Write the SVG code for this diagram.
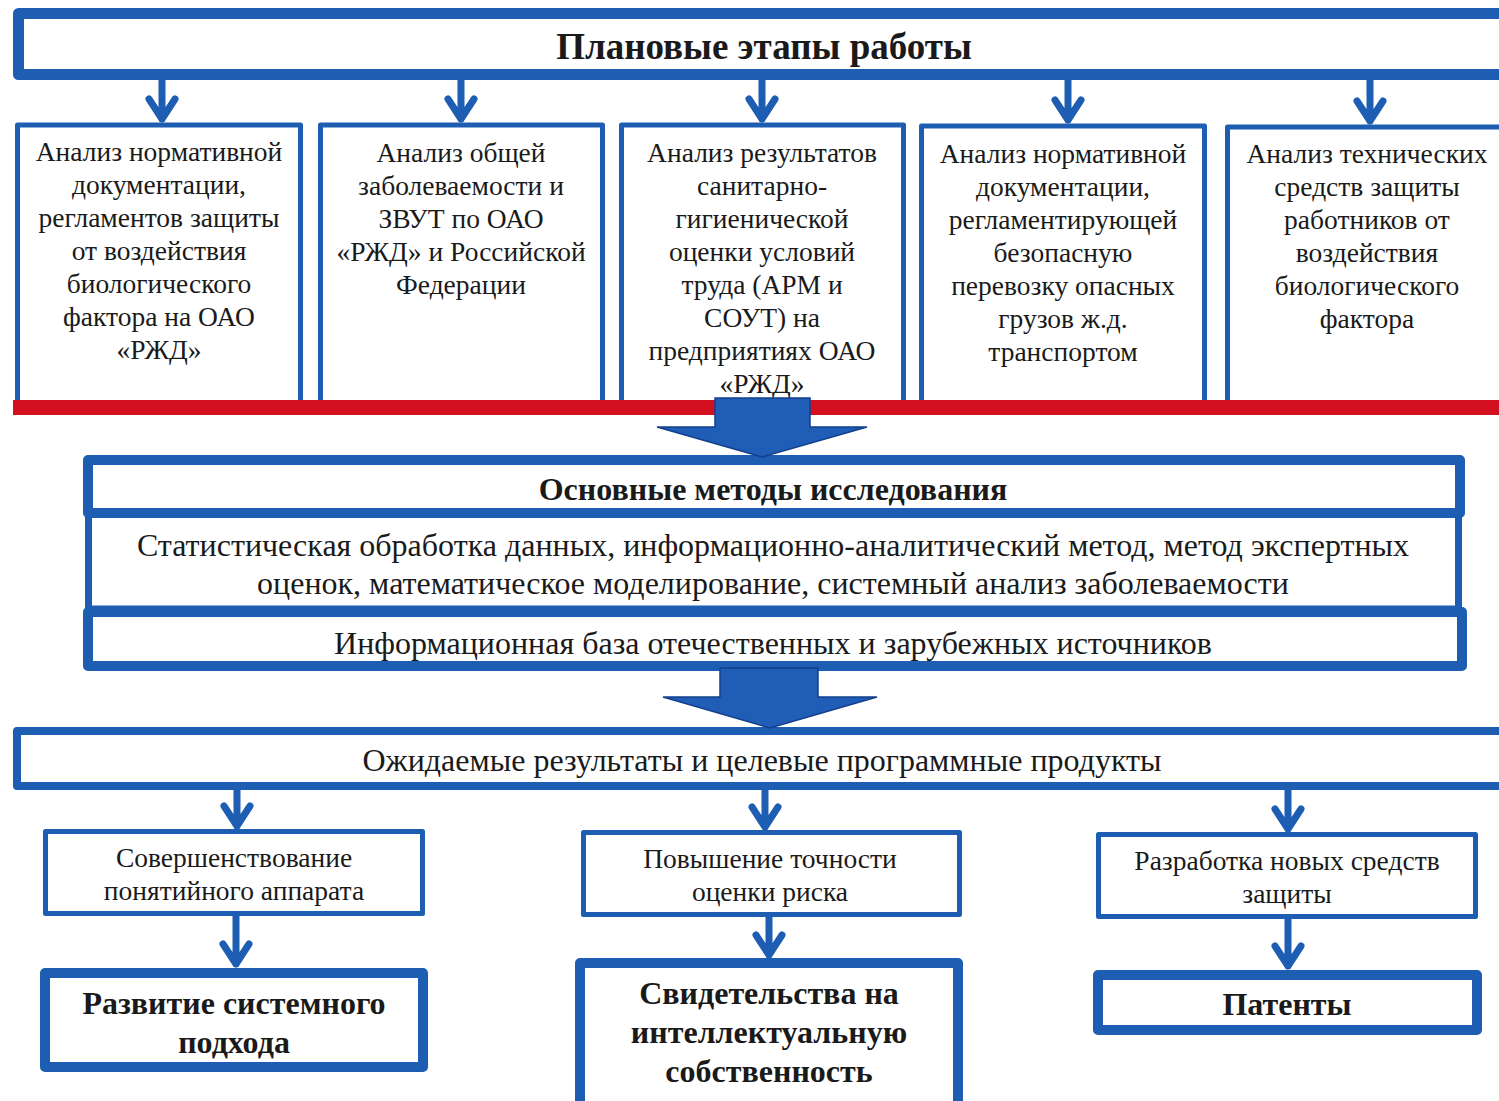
<svg xmlns="http://www.w3.org/2000/svg" width="1499" height="1101" viewBox="0 0 1499 1101">
<style>
.b{fill:#fff;stroke:#1d5eb3;stroke-linejoin:round}
.t{font-family:"Liberation Serif","Times New Roman",serif;fill:#1a1a1a;text-anchor:middle}
.c{font-size:27.5px}
.s{font-size:27.5px}
.m{font-size:32px}
.h{font-weight:bold}
.ar{fill:none;stroke:#1d5eb3;stroke-width:7;stroke-linecap:round;stroke-linejoin:round}
.big{fill:#1f5db6;stroke:#143f8c;stroke-width:1.5;stroke-linejoin:miter}
</style>
<rect width="1499" height="1101" fill="#fff"/>

<g id="plan">
<rect class="b" x="18.5" y="13.5" width="1500" height="61" stroke-width="11"/>
<text class="t h" x="764" y="59" font-size="37">Плановые этапы работы</text>
</g>

<g id="col1">
<rect class="b" x="17.5" y="125" width="283" height="285" stroke-width="5"/>
<text class="t c"><tspan x="159" y="161">Анализ нормативной</tspan><tspan x="159" y="194">документации,</tspan><tspan x="159" y="227">регламентов защиты</tspan><tspan x="159" y="260">от воздействия</tspan><tspan x="159" y="293">биологического</tspan><tspan x="159" y="326">фактора на ОАО</tspan><tspan x="159" y="359">«РЖД»</tspan></text>
</g>
<g id="col2">
<rect class="b" x="320.5" y="125" width="282" height="285" stroke-width="5"/>
<text class="t c"><tspan x="461" y="162">Анализ общей</tspan><tspan x="461" y="195">заболеваемости и</tspan><tspan x="461" y="228">ЗВУТ по ОАО</tspan><tspan x="461" y="261">«РЖД» и Российской</tspan><tspan x="461" y="294">Федерации</tspan></text>
</g>
<g id="col3">
<rect class="b" x="621.5" y="125" width="282" height="285" stroke-width="5"/>
<text class="t c"><tspan x="762" y="162">Анализ результатов</tspan><tspan x="762" y="195">санитарно-</tspan><tspan x="762" y="228">гигиенической</tspan><tspan x="762" y="261">оценки условий</tspan><tspan x="762" y="294">труда (АРМ и</tspan><tspan x="762" y="327">СОУТ) на</tspan><tspan x="762" y="360">предприятиях ОАО</tspan><tspan x="762" y="393">«РЖД»</tspan></text>
</g>
<g id="col4">
<rect class="b" x="921.5" y="126" width="283" height="285" stroke-width="5"/>
<text class="t c"><tspan x="1063" y="163">Анализ нормативной</tspan><tspan x="1063" y="196">документации,</tspan><tspan x="1063" y="229">регламентирующей</tspan><tspan x="1063" y="262">безопасную</tspan><tspan x="1063" y="295">перевозку опасных</tspan><tspan x="1063" y="328">грузов ж.д.</tspan><tspan x="1063" y="361">транспортом</tspan></text>
</g>
<g id="col5">
<rect class="b" x="1227.5" y="127" width="290" height="285" stroke-width="5"/>
<text class="t c"><tspan x="1367" y="163">Анализ технических</tspan><tspan x="1367" y="196">средств защиты</tspan><tspan x="1367" y="229">работников от</tspan><tspan x="1367" y="262">воздействия</tspan><tspan x="1367" y="295">биологического</tspan><tspan x="1367" y="328">фактора</tspan></text>
</g>

<rect x="13" y="400" width="1490" height="15" fill="#d3101f"/>

<g id="methods">
<rect class="b" x="88.5" y="513" width="1370" height="96" stroke-width="7"/>
<rect class="b" x="88" y="460" width="1372" height="53" stroke-width="10"/>
<rect class="b" x="88" y="612" width="1374" height="54" stroke-width="10"/>
<text class="t h" x="773" y="500" font-size="32">Основные методы исследования</text>
<text class="t m"><tspan x="773" y="556">Статистическая обработка данных, информационно-аналитический метод, метод экспертных</tspan><tspan x="773" y="594">оценок, математическое моделирование, системный анализ заболеваемости</tspan></text>
<text class="t m" x="773" y="654">Информационная база отечественных и зарубежных источников</text>
</g>

<g id="results">
<rect class="b" x="17" y="731" width="1500" height="55" stroke-width="8"/>
<text class="t" x="762" y="771" font-size="32">Ожидаемые результаты и целевые программные продукты</text>
</g>

<g id="r1a">
<rect class="b" x="45.5" y="831.5" width="377" height="82" stroke-width="5"/>
<text class="t s"><tspan x="234" y="867">Совершенствование</tspan><tspan x="234" y="900">понятийного аппарата</tspan></text>
</g>
<g id="r1b">
<rect class="b" x="583.5" y="832.5" width="376" height="82" stroke-width="5"/>
<text class="t s"><tspan x="770" y="868">Повышение точности</tspan><tspan x="770" y="901">оценки риска</tspan></text>
</g>
<g id="r1c">
<rect class="b" x="1098.5" y="834.5" width="377" height="82" stroke-width="5"/>
<text class="t s"><tspan x="1287" y="870">Разработка новых средств</tspan><tspan x="1287" y="903">защиты</tspan></text>
</g>

<g id="r2a">
<rect class="b" x="45" y="973" width="378" height="94" stroke-width="10"/>
<text class="t h" font-size="32"><tspan x="234" y="1014">Развитие системного</tspan><tspan x="234" y="1053">подхода</tspan></text>
</g>
<g id="r2b">
<rect class="b" x="580" y="963" width="378" height="150" stroke-width="10"/>
<text class="t h" font-size="32"><tspan x="769" y="1004">Свидетельства на</tspan><tspan x="769" y="1043">интеллектуальную</tspan><tspan x="769" y="1082">собственность</tspan></text>
</g>
<g id="r2c">
<rect class="b" x="1098" y="975" width="379" height="55" stroke-width="10"/>
<text class="t h" x="1287" y="1015" font-size="32">Патенты</text>
</g>

<g id="connectors">
<path class="ar" d="M162 80V119M149 99L162 119L175 99"/>
<path class="ar" d="M461 80V119M448 99L461 119L474 99"/>
<path class="ar" d="M762 80V119M749 99L762 119L775 99"/>
<path class="ar" d="M1068 80V120M1055 100L1068 120L1081 100"/>
<path class="ar" d="M1370 80V121M1357 101L1370 121L1383 101"/>
<path class="big" d="M715 398H810V427H867L762 457L657 427H715Z"/>
<path class="big" d="M720 668H818V697H877L770 728L663 697H720Z"/>
<path class="ar" d="M237 790V826M224 806L237 826L250 806"/>
<path class="ar" d="M765 790V827M752 807L765 827L778 807"/>
<path class="ar" d="M1288 790V829M1275 809L1288 829L1301 809"/>
<path class="ar" d="M236 916V964M223 944L236 964L249 944"/>
<path class="ar" d="M769 917V955M756 935L769 955L782 935"/>
<path class="ar" d="M1288 919V966M1275 946L1288 966L1301 946"/>
</g>
</svg>
